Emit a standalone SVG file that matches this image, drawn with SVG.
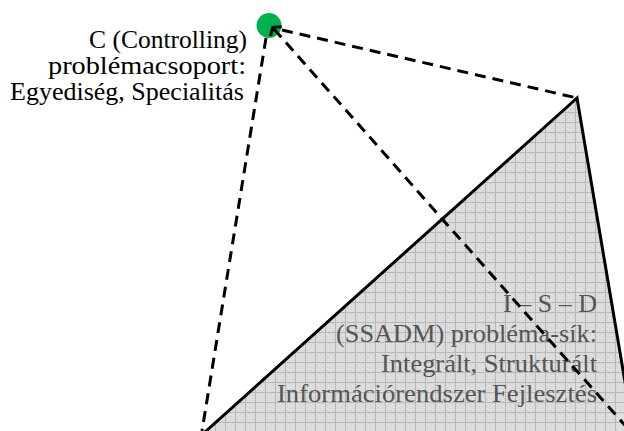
<svg xmlns="http://www.w3.org/2000/svg" width="624" height="431" viewBox="0 0 624 431">
<style>
.dash{fill:none;stroke:#000;stroke-width:3;stroke-dasharray:11 7;}
</style>
<defs>
<pattern id="grid" patternUnits="userSpaceOnUse" x="6" y="3" width="10" height="10">
<rect width="10" height="10" fill="#dbdbdb"/>
<rect x="0" y="0" width="1" height="1" fill="#e6e6e6"/>
<rect x="2" y="2" width="1" height="1" fill="#e6e6e6"/>
<rect x="4" y="4" width="1" height="1" fill="#e6e6e6"/>
<rect x="6" y="6" width="1" height="1" fill="#e6e6e6"/>
<rect x="2" y="6" width="1" height="1" fill="#e6e6e6"/>
<rect x="6" y="2" width="1" height="1" fill="#e6e6e6"/>
<rect x="8" y="4" width="1" height="1" fill="#e6e6e6"/>
<rect x="4" y="8" width="1" height="1" fill="#e6e6e6"/>
<rect x="9" y="0" width="1" height="10" fill="#b8b8b8"/>
<rect x="0" y="9" width="10" height="1" fill="#b8b8b8"/>
</pattern>
</defs>
<rect width="624" height="431" fill="#fff"/>
<g id="plane-isd">
<polygon points="577,98 195,441 635,441" fill="url(#grid)" stroke="#000" stroke-width="3" stroke-linejoin="miter"/>
<g font-family="Liberation Serif, Times New Roman, serif" font-size="26" text-anchor="end" fill="#555555">
<text x="597" y="312" textLength="94" lengthAdjust="spacingAndGlyphs">I – S – D</text>
<text x="597" y="342" textLength="261" lengthAdjust="spacingAndGlyphs">(SSADM) probléma-sík:</text>
<text x="597" y="372" textLength="216" lengthAdjust="spacingAndGlyphs">Integrált, Strukturált</text>
<text x="597" y="402" textLength="320" lengthAdjust="spacingAndGlyphs">Információrendszer Fejlesztés</text>
</g>
</g>
<g id="node-c">
<circle cx="269" cy="25.5" r="12.5" fill="#00b050"/>
<g font-family="Liberation Serif, Times New Roman, serif" font-size="25" text-anchor="end" fill="#000">
<text x="247" y="48" textLength="158" lengthAdjust="spacingAndGlyphs">C (Controlling)</text>
<text x="246" y="74" textLength="198" lengthAdjust="spacingAndGlyphs">problémacsoport:</text>
<text x="244" y="100" textLength="234" lengthAdjust="spacingAndGlyphs">Egyediség, Specialitás</text>
</g>
</g>
<g id="connectors">
<line class="dash" x1="282" y1="30" x2="577" y2="98"/>
<line class="dash" x1="266" y1="38" x2="202" y2="431"/>
<line class="dash" x1="274" y1="29" x2="630" y2="431"/>
<polyline points="270.5,36 272.7,27.3 281.7,26.7" fill="none" stroke="#000" stroke-width="3"/>
</g>
</svg>
